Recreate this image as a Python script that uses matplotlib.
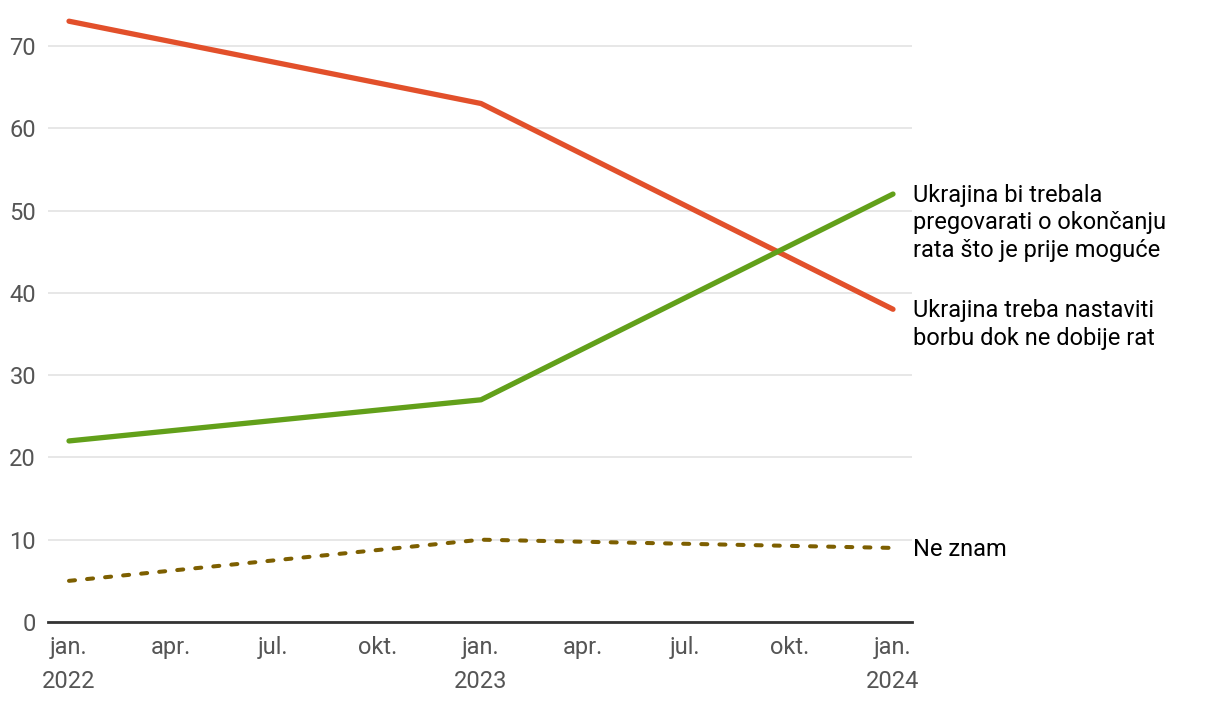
import matplotlib
matplotlib.use("Agg")
import matplotlib.pyplot as plt
import datetime as dt
import matplotlib.dates as mdates

plt.rcParams['font.family'] = ['Roboto', 'DejaVu Sans']

dates = ["2022-01-01", "2023-01-01", "2024-01-01"]
nastaviti = [73, 63, 38]
pregovarati = [22, 27, 52]
ne_znam = [5, 10, 9]

series_labels = [
    "Ukrajina bi trebala\npregovarati o okončanju\nrata što je prije moguće",
    "Ukrajina treba nastaviti\nborbu dok ne dobije rat",
    "Ne znam",
]
tick_dates = ["2022-01-01", "2022-04-01", "2022-07-01", "2022-10-01",
              "2023-01-01", "2023-04-01", "2023-07-01", "2023-10-01",
              "2024-01-01"]
tick_labels = ["jan.\n2022", "apr.", "jul.", "okt.", "jan.\n2023",
               "apr.", "jul.", "okt.", "jan.\n2024"]
yticks = [0, 10, 20, 30, 40, 50, 60, 70]

x = [dt.datetime.strptime(d, "%Y-%m-%d") for d in dates]
xt = [dt.datetime.strptime(d, "%Y-%m-%d") for d in tick_dates]

fig = plt.figure(figsize=(12.2, 7.02), dpi=100)
ax = fig.add_axes([48/1220, 1-622/702, (912-48)/1220, (622-10)/702])

red = "#E2502B"
green = "#62A01A"
brown = "#7D5F00"

ax.plot(x, nastaviti, color=red, lw=3.8, solid_capstyle='round', zorder=3)
ax.plot(x, pregovarati, color=green, lw=3.8, solid_capstyle='round', zorder=3)
ax.plot(x, ne_znam, color=brown, lw=2.9, linestyle=(0, (1.5, 3.0)),
        dash_capstyle='round', zorder=3)

x0 = mdates.date2num(x[0])
x1 = mdates.date2num(x[-1])
ppd = (893-69)/(x1-x0)
ax.set_xlim(x0 - (69-48)/ppd, x1 + (912-893)/ppd)
ax.set_ylim(0, (622-10)/82.3*10)

ax.set_yticks(yticks)
ax.set_yticklabels([str(v) for v in yticks])
ax.set_xticks(xt)
ax.set_xticklabels(tick_labels, linespacing=1.6)

ax.grid(axis='y', color='#e3e3e3', lw=1.2)
ax.set_axisbelow(True)
for s in ['top', 'right', 'left']:
    ax.spines[s].set_visible(False)
ax.spines['bottom'].set_color('#333333')
ax.spines['bottom'].set_linewidth(2)
ax.spines['bottom'].set_zorder(4)

ax.tick_params(axis='both', length=0, labelsize=17, labelcolor='#555555')
ax.tick_params(axis='y', pad=8.6)
ax.tick_params(axis='x', pad=10)

ends = [pregovarati[-1], nastaviti[-1], ne_znam[-1]]
for lab, yv in zip(series_labels, ends):
    ax.annotate(lab, xy=(x[-1], yv), xytext=(14.4, 7.5), textcoords='offset points',
                ha='left', va='top', fontsize=17, color='black',
                linespacing=1.27, annotation_clip=False)

fig.savefig("out.png", dpi=100)
